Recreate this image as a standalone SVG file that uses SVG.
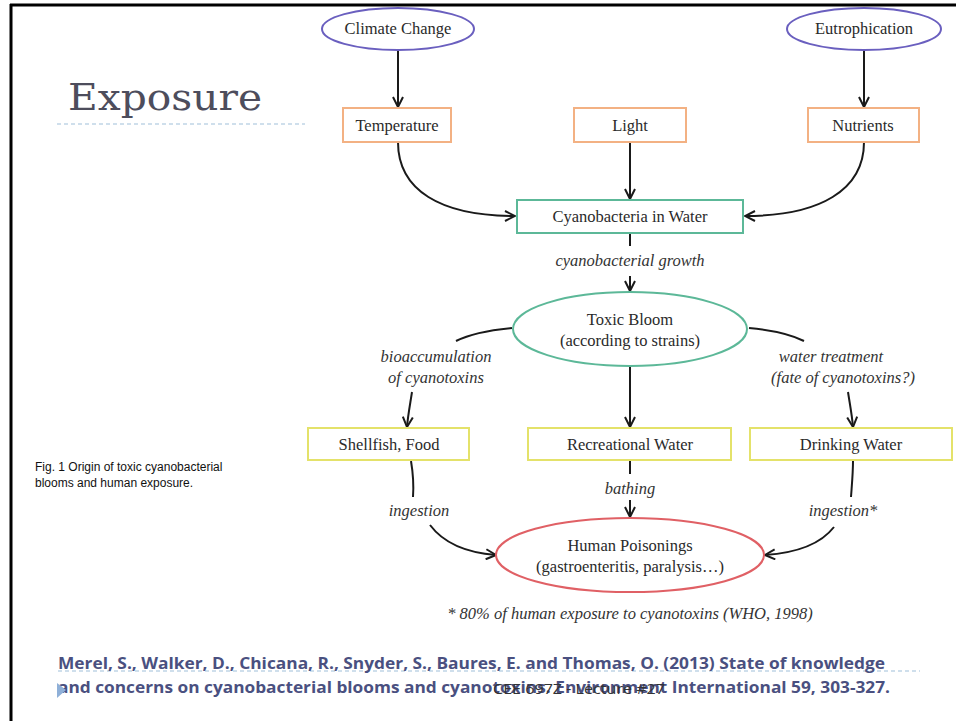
<svg xmlns="http://www.w3.org/2000/svg" width="956" height="721" viewBox="0 0 956 721">
<defs>
<marker id="ah" viewBox="0 0 12 12" refX="11" refY="6" markerWidth="12" markerHeight="12" markerUnits="userSpaceOnUse" orient="auto">
<path d="M1,1 L11,6 L1,11" fill="none" stroke="#1a1a1a" stroke-width="2"/>
</marker>
<style>
.t{font-family:"Liberation Serif","Times New Roman",serif;font-size:16.5px;fill:#2a2a2a;text-anchor:middle}
.i{font-family:"Liberation Serif","Times New Roman",serif;font-size:16.5px;fill:#333;font-style:italic;text-anchor:middle}
.c{fill:none;stroke:#1a1a1a;stroke-width:2}
.a{fill:none;stroke:#1a1a1a;stroke-width:2;marker-end:url(#ah)}
.ov{fill:#fff;stroke:#6a5fbf;stroke-width:2}
.or{fill:#fff;stroke:#f3b183;stroke-width:2}
.gr{fill:#fff;stroke:#5cb898;stroke-width:2}
.ye{fill:#fff;stroke:#e4e26a;stroke-width:2}
.rd{fill:#fff;stroke:#e06065;stroke-width:2}
.cit{font-family:"Open Sans","Liberation Sans",sans-serif;font-weight:bold;font-size:16px;fill:#4a5080}
</style>
</defs>
<rect width="956" height="721" fill="#fff"/>
<line x1="10" y1="5" x2="956" y2="5" stroke="#000" stroke-width="3"/>
<line x1="11" y1="4" x2="11" y2="721" stroke="#000" stroke-width="3"/>

<text x="68" y="110" font-family="'DejaVu Serif','Liberation Serif',serif" font-size="38" fill="#4d4d5c" textLength="194" lengthAdjust="spacingAndGlyphs">Exposure</text>
<line x1="57" y1="124" x2="305" y2="124" stroke="#9fbfd9" stroke-width="1" stroke-dasharray="4,3"/>

<g id="connectors">
<path class="a" d="M398,50 L398,107"/>
<path class="a" d="M864,50 L864,107"/>
<path class="a" d="M398,142 C398,190 440,216 515,216"/>
<path class="a" d="M630,142 L630,199"/>
<path class="a" d="M864,142 C864,190 820,216 745,216"/>
<path class="c" d="M630,234 L630,246"/>
<path class="a" d="M630,276 L630,291"/>
<path class="c" d="M512,328 C490,330 470,334 456,341"/>
<path class="c" d="M749,328 C770,330 790,334 804,341"/>
<path class="a" d="M412,392 C410,405 408,415 407,427"/>
<path class="a" d="M848,392 C850,405 852,415 853,427"/>
<path class="a" d="M630,367 L630,427"/>
<path class="c" d="M411,461 C413,473 414,483 413,497"/>
<path class="a" d="M430,525 C445,545 470,553 496,555"/>
<path class="c" d="M630,461 L630,474"/>
<path class="a" d="M630,500 L630,517"/>
<path class="c" d="M853,461 C853,473 852,483 851,497"/>
<path class="a" d="M834,527 C820,545 795,553 765,555"/>
</g>

<g id="climate"><ellipse class="ov" cx="398" cy="29" rx="76" ry="21"/><text class="t" x="398" y="34">Climate Change</text></g>
<g id="eutro"><ellipse class="ov" cx="864" cy="29" rx="77" ry="21"/><text class="t" x="864" y="34">Eutrophication</text></g>
<g id="temperature"><rect class="or" x="343" y="108" width="108" height="34"/><text class="t" x="397" y="131">Temperature</text></g>
<g id="light"><rect class="or" x="574" y="108" width="112" height="34"/><text class="t" x="630" y="131">Light</text></g>
<g id="nutrients"><rect class="or" x="808" y="108" width="111" height="34"/><text class="t" x="863" y="131">Nutrients</text></g>
<g id="cyano"><rect class="gr" x="517" y="200" width="226" height="33"/><text class="t" x="630" y="222">Cyanobacteria in Water</text></g>
<text class="i" x="630" y="266">cyanobacterial growth</text>
<g id="bloom"><ellipse class="gr" cx="630" cy="329" rx="117" ry="37"/><text class="t" x="630" y="325">Toxic Bloom</text><text class="t" x="630" y="346">(according to strains)</text></g>
<text class="i" x="436" y="362">bioaccumulation</text>
<text class="i" x="436" y="383">of cyanotoxins</text>
<text class="i" x="831" y="362">water treatment</text>
<text class="i" x="843" y="383">(fate of cyanotoxins?)</text>
<g id="shellfish"><rect class="ye" x="308" y="428" width="161" height="32"/><text class="t" x="389" y="450">Shellfish, Food</text></g>
<g id="recreational"><rect class="ye" x="528" y="428" width="203" height="32"/><text class="t" x="630" y="450">Recreational Water</text></g>
<g id="drinking"><rect class="ye" x="750" y="428" width="202" height="32"/><text class="t" x="851" y="450">Drinking Water</text></g>
<text class="i" x="419" y="516">ingestion</text>
<text class="i" x="630" y="494">bathing</text>
<text class="i" x="843" y="516">ingestion*</text>
<g id="human"><ellipse class="rd" cx="630" cy="555" rx="134" ry="37"/><text class="t" x="630" y="551">Human Poisonings</text><text class="t" x="630" y="572">(gastroenteritis, paralysis…)</text></g>
<text class="i" x="630" y="619">* 80% of human exposure to cyanotoxins (WHO, 1998)</text>

<text x="35" y="471" font-family="'Liberation Sans',Arial,sans-serif" font-size="12" fill="#111">Fig. 1 Origin of toxic cyanobacterial</text>
<text x="35" y="487" font-family="'Liberation Sans',Arial,sans-serif" font-size="12" fill="#111">blooms and human exposure.</text>

<line x1="58" y1="671" x2="920" y2="671" stroke="#9fbfd9" stroke-width="1" stroke-dasharray="4,3"/>
<text class="cit" x="58" y="669" textLength="827" lengthAdjust="spacingAndGlyphs">Merel, S., Walker, D., Chicana, R., Snyder, S., Baures, E. and Thomas, O. (2013) State of knowledge</text>
<text class="cit" x="58" y="693" textLength="832" lengthAdjust="spacingAndGlyphs">and concerns on cyanobacterial blooms and cyanotoxins. Environment International 59, 303-327.</text>
<polygon points="57,683 57,698 66,690" fill="#8fb0d8"/>
<text x="493" y="694" font-family="'Open Sans','Liberation Sans',sans-serif" font-size="14" fill="#333" textLength="172" lengthAdjust="spacingAndGlyphs">CEE 697Z - Lecture #27</text>
</svg>
